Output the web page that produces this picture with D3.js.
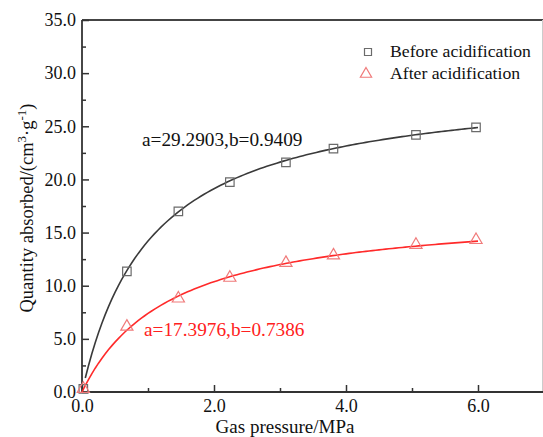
<!DOCTYPE html>
<html><head><meta charset="utf-8">
<script src="https://cdn.jsdelivr.net/npm/d3@7"></script>
<style>body{margin:0;background:#fff}svg{display:block}</style>
</head><body>
<svg id="c" width="543" height="437"></svg>
<script>
const pressure = [0.02, 0.68, 1.46, 2.24, 3.09, 3.81, 5.06, 5.97];
const beforeVals = [0.3, 11.35, 17.0, 19.75, 21.6, 22.9, 24.2, 24.9];
const afterVals = [0.3, 6.15, 8.8, 10.75, 12.15, 12.85, 13.85, 14.3];
const fitBefore = {a: 29.2903, b: 0.9409};
const fitAfter = {a: 17.3976, b: 0.7386};
const xTicks = [0, 2, 4, 6];
const yTicks = [0, 5, 10, 15, 20, 25, 30, 35];
const seriesNames = ["Before acidification", "After acidification"];

const svg = d3.select("#c");
const font = "'Liberation Serif','Times New Roman',serif";
const L = 82, R = 544, T = 20, B = 392;
const x = d3.scaleLinear().domain([0, 7]).range([L, R]);
const y = d3.scaleLinear().domain([0, 35]).range([B, T]);

// frame
svg.append("line").attr("x1", L).attr("x2", 543).attr("y1", T).attr("y2", T)
  .attr("stroke", "#444").attr("stroke-width", 1.8);
svg.append("line").attr("x1", 542.5).attr("x2", 542.5).attr("y1", T).attr("y2", B)
  .attr("stroke", "#ccc").attr("stroke-width", 1);

// x axis
const xAxis = d3.axisBottom(x).tickValues(xTicks).tickFormat(d3.format(".1f")).tickSize(-7).tickPadding(7);
const gx = svg.append("g").attr("transform", `translate(0,${B})`).call(xAxis);
const xMinor = d3.axisBottom(x).tickValues([1, 3, 5]).tickFormat("").tickSize(-4);
svg.append("g").attr("transform", `translate(0,${B})`).call(xMinor).select(".domain").remove();

// y axis
const yAxis = d3.axisLeft(y).tickValues(yTicks).tickFormat(d3.format(".1f")).tickSize(-7).tickPadding(6);
const gy = svg.append("g").attr("transform", `translate(${L},0)`).call(yAxis);
const yMinor = d3.axisLeft(y).tickValues([2.5, 7.5, 12.5, 17.5, 22.5, 27.5, 32.5]).tickFormat("").tickSize(-4);
svg.append("g").attr("transform", `translate(${L},0)`).call(yMinor).select(".domain").remove();

svg.selectAll(".domain").attr("stroke", "#333").attr("stroke-width", 1.8);
svg.selectAll(".tick line").attr("stroke", "#333").attr("stroke-width", 1.5);
svg.selectAll(".tick text").attr("font-family", font).attr("font-size", 18).attr("fill", "#111");
gx.select(".domain").attr("d", `M${L},0H543`);
gy.select(".domain").attr("d", `M0,${B}V${T}`);

// axis titles
svg.append("text").attr("x", 285).attr("y", 432.8).attr("text-anchor", "middle")
  .attr("font-family", font).attr("font-size", 19).attr("fill", "#111").text("Gas pressure/MPa");
const yt = svg.append("text").attr("transform", "translate(33,208) rotate(-90)").attr("text-anchor", "middle")
  .attr("font-family", font).attr("font-size", 18.5).attr("fill", "#111");
yt.append("tspan").text("Quantity absorbed/(cm");
yt.append("tspan").attr("dy", -7).attr("font-size", 13).text("3");
yt.append("tspan").attr("dy", 7).text("·g");
yt.append("tspan").attr("dy", -7).attr("font-size", 13).text("-1");
yt.append("tspan").attr("dy", 7).text(")");

// fit curves
function langmuir(f, p) { return f.a * f.b * p / (1 + f.b * p); }
const ps = d3.range(0, 121).map(i => i * 0.05);
const line = d3.line().x(d => x(d[0])).y(d => y(d[1]));
svg.append("path").datum(ps.filter(p => p >= 0.05).map(p => [p, langmuir(fitBefore, p)]))
  .attr("d", line).attr("fill", "none").attr("stroke", "#3a3a3a").attr("stroke-width", 1.6);
svg.append("path").datum(ps.map(p => [p, langmuir(fitAfter, p)]))
  .attr("d", line).attr("fill", "none").attr("stroke", "#ff2a2a").attr("stroke-width", 1.6);

// markers
const sq = d3.symbol().type(d3.symbolSquare).size(72);
const tri = d3.symbol().type(d3.symbolTriangle).size(64);
svg.append("g").selectAll("path").data(pressure.map((p, i) => [p, beforeVals[i]])).join("path")
  .attr("d", sq).attr("transform", d => `translate(${x(d[0])},${y(d[1])})`)
  .attr("fill", "none").attr("stroke", "#6b6b6b").attr("stroke-width", 1.2);
svg.append("g").selectAll("path").data(pressure.map((p, i) => [p, afterVals[i]])).join("path")
  .attr("d", tri).attr("transform", d => `translate(${x(d[0])},${y(d[1])})`)
  .attr("fill", "none").attr("stroke", "#f07a7a").attr("stroke-width", 1.2);

// legend
svg.append("path").attr("d", d3.symbol().type(d3.symbolSquare).size(49)()).attr("transform", "translate(368,52)")
  .attr("fill", "none").attr("stroke", "#6b6b6b").attr("stroke-width", 1.2);
svg.append("path").attr("d", d3.symbol().type(d3.symbolTriangle).size(55)()).attr("transform", "translate(366,74)")
  .attr("fill", "none").attr("stroke", "#f07a7a").attr("stroke-width", 1.2);
svg.append("text").attr("x", 390).attr("y", 57).attr("font-family", font).attr("font-size", 17.7)
  .attr("fill", "#111").text(seriesNames[0]);
svg.append("text").attr("x", 390).attr("y", 79).attr("font-family", font).attr("font-size", 17.7)
  .attr("fill", "#111").text(seriesNames[1]);

// annotations
svg.append("text").attr("x", 142).attr("y", 146).attr("font-family", font).attr("font-size", 19.3)
  .attr("fill", "#111").text(`a=${fitBefore.a.toFixed(4)},b=${fitBefore.b.toFixed(4)}`);
svg.append("text").attr("x", 144).attr("y", 336).attr("font-family", font).attr("font-size", 19.3)
  .attr("fill", "#ff2020").text(`a=${fitAfter.a.toFixed(4)},b=${fitAfter.b.toFixed(4)}`);
</script>
</body></html>
